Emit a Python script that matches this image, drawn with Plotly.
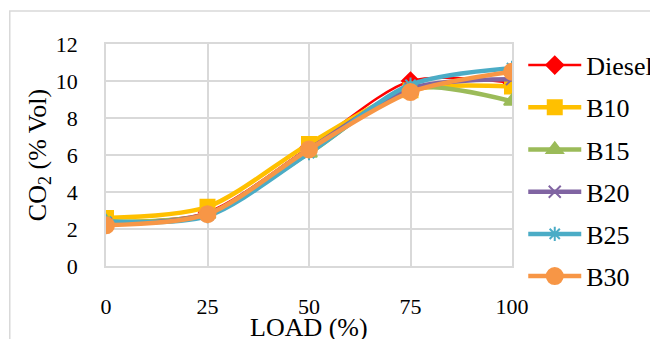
import plotly.graph_objects as go

load = [0, 25, 50, 75, 100]
diesel = [2.4, 2.9, 6.4, 10.0, 9.9]
b10 = [2.6, 3.2, 6.6, 9.5, 9.7]
b15 = [2.4, 2.8, 6.1, 9.6, 8.9]
b20 = [2.3, 2.8, 6.3, 9.6, 10.1]
b25 = [2.4, 2.7, 6.1, 9.8, 10.7]
b30 = [2.2, 2.8, 6.3, 9.4, 10.5]

series = [
    ("Diesel", diesel, "#FF0000", "diamond", 2.5, 13),
    ("B10", b10, "#FFC000", "square", 4.5, 14),
    ("B15", b15, "#9BBB59", "triangle-up", 4.5, 14),
    ("B20", b20, "#8064A2", "x-thin-open", 4.5, 12),
    ("B25", b25, "#4BACC6", "asterisk-open", 4.5, 12),
    ("B30", b30, "#F79646", "circle", 4.5, 16),
]

fig = go.Figure()
for i, (name, vals, col, sym, lw, ms) in enumerate(series):
    fig.add_trace(go.Scatter(
        x=load, y=vals, name=name, mode="lines+markers",
        line=dict(color=col, width=lw, shape="spline", smoothing=0.8),
        marker=dict(symbol=sym, size=ms, color=col, line=dict(color=col, width=2)),
        legendgroup=name,
    ))

font = "Liberation Serif"
fig.update_layout(
    width=650, height=339,
    margin=dict(l=106, r=138, t=44, b=73, autoexpand=False),
    paper_bgcolor="white", plot_bgcolor="white",
    font=dict(family=font, size=22, color="black"),
    showlegend=True,
    legend=dict(xref="container", yref="container", x=0.805, y=0.877,
                xanchor="left", yanchor="top",
                font=dict(family=font, size=26), tracegroupgap=5.4,
                itemwidth=53, bgcolor="rgba(0,0,0,0)", maxheight=339),
    xaxis=dict(range=[0, 100], tickvals=[0, 25, 50, 75, 100],
               showgrid=True, gridcolor="#D9D9D9", gridwidth=1.5,
               showline=True, linecolor="#D9D9D9", linewidth=1.5, mirror=True,
               zeroline=False, ticks="", ticklabelstandoff=20, automargin=False,
               tickfont=dict(family=font, size=22)),
    yaxis=dict(range=[0, 12], dtick=2,
               showgrid=True, gridcolor="#D9D9D9", gridwidth=1.5,
               showline=True, linecolor="#D9D9D9", linewidth=1.5, mirror=True,
               zeroline=False, ticks="", ticklabelstandoff=22, automargin=False,
               tickfont=dict(family=font, size=22),
               title=dict(text="CO<sub>2</sub> (% Vol)", standoff=2, font=dict(family=font, size=26))),
    annotations=[dict(text="LOAD (%)", xref="paper", yref="paper",
                      x=0.5, y=-0.278, xanchor="center", yanchor="middle",
                      showarrow=False, font=dict(family=font, size=26))],
    shapes=[dict(type="rect", xref="paper", yref="paper",
                 x0=-0.237, x1=1.6, y0=-0.5, y1=1.149,
                 line=dict(color="#D9D9D9", width=1.5), layer="below")],
)

fig.write_html("out.html")
